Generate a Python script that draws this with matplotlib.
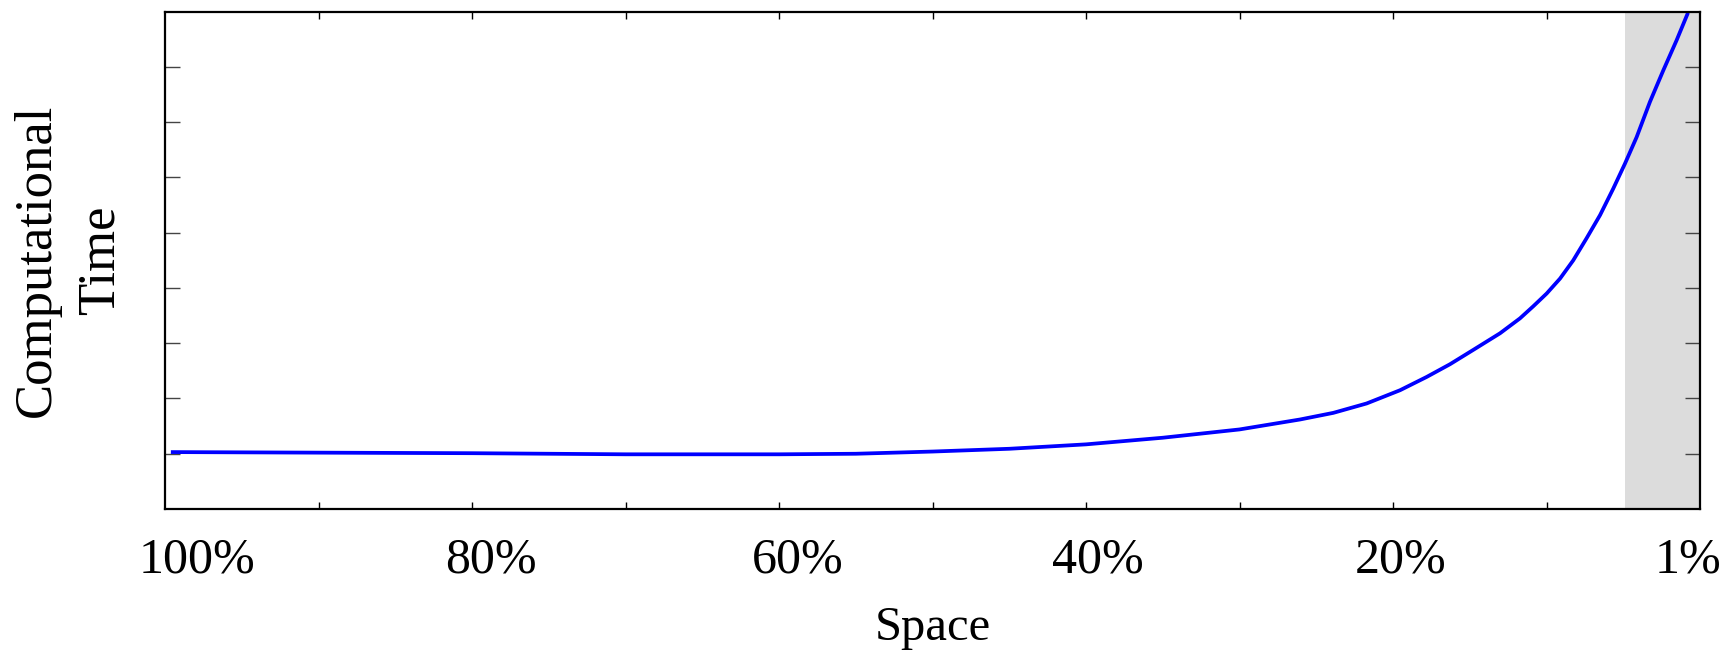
import matplotlib.pyplot as plt
import numpy as np

plt.rcParams['font.family'] = ['Liberation Serif', 'DejaVu Serif']

# space left (%) vs computational time (arbitrary units)
space = [99.5, 90, 80, 70, 60, 55, 50, 45, 40, 35, 30, 26.06, 23.89, 21.72,
         19.54, 17.81, 16.29, 14.77, 13.03, 11.73, 10.86, 9.99, 9.12, 8.26,
         7.39, 6.51, 5.65, 4.89, 4.13, 3.26, 2.39, 1.53, 0.83]
comp_time = [1.03, 1.02, 1.01, 0.99, 0.99, 1.00, 1.04, 1.09, 1.17, 1.29, 1.44,
             1.62, 1.74, 1.91, 2.15, 2.39, 2.62, 2.88, 3.18, 3.45, 3.67, 3.90,
             4.17, 4.50, 4.90, 5.32, 5.80, 6.25, 6.73, 7.37, 7.94, 8.48, 8.95]

tick_marks = [10, 20, 30, 40, 50, 60, 70, 80, 90]
label_pos = [97.9, 78.8, 58.8, 39.2, 19.5, 0.8]
label_txt = ['100%', '80%', '60%', '40%', '20%', '1%']
shade_from = 4.9

fig = plt.figure(figsize=(17.34, 6.54), dpi=100)
ax = fig.add_axes([0.0952, 0.2217, 0.8852, 0.7604])

ax.axvspan(shade_from, 0, color='#dcdcdc', lw=0, zorder=0)
ax.plot(space, comp_time, color='#0000ff', lw=2.7, zorder=3,
        solid_joinstyle='round')

ax.set_xlim(100, 0)
ax.set_ylim(0, 9)

ax.set_xticks(tick_marks)
ax.set_xticklabels([])
ax.set_xticks(label_pos, minor=True)
ax.set_xticklabels(label_txt, minor=True, fontsize=36)
ax.tick_params(axis='x', which='major', direction='in', length=5, width=1,
               top=True, bottom=True)
ax.tick_params(axis='x', which='minor', length=0, pad=20)

ax.set_yticks(np.arange(1, 9))
ax.set_yticklabels([])
ax.tick_params(axis='y', direction='in', length=11, width=1, colors='#444444',
               left=True, right=True)

for s in ax.spines.values():
    s.set_linewidth(1.6)
    s.set_zorder(5)

ax.set_xlabel('Space', fontsize=35, labelpad=16)
ax.set_ylabel('Computational\nTime', fontsize=38, labelpad=26,
              linespacing=1.4)

fig.savefig('out.png', dpi=100)
